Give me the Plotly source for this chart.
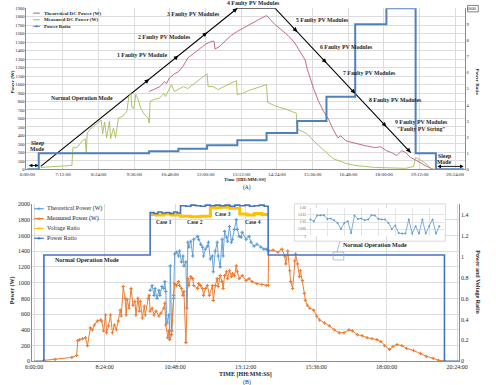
import plotly.graph_objects as go
import numpy as np

W, H = 496, 385
SERIF = "Liberation Serif, Times New Roman, serif"

# ====================== Panel (A) data ======================
A_TIME_TICKS = ["6:00:00", "7:12:00", "8:24:00", "9:36:00", "10:48:00", "12:00:00", "13:12:00",
                "14:24:00", "15:36:00", "16:48:00", "18:00:00", "19:12:00", "20:24:00"]
A_POWER_TICKS = list(range(0, 2000, 100))
A_RATIO_TICKS = [0, 1, 2, 3, 4, 5, 6, 7, 8, 9, 10]
A_RATIO_LABELS = ["0", "1", "2", "3", "4", "5", "6", "7", "8", "9", "1000"]

a_theo_time = ["10:06", "10:16", "10:28", "10:37", "10:41", "10:47", "10:57", "11:05", "11:15", "11:24",
               "11:34", "11:46", "12:00", "12:13", "12:17", "12:19", "12:29", "12:41", "12:52", "13:04",
               "13:18", "13:31", "13:47", "14:03", "14:20", "14:32", "14:46", "14:59", "15:11", "15:21",
               "15:25", "15:31", "15:38", "15:48", "15:58", "16:08", "16:17", "16:27", "16:33", "16:43",
               "16:57", "17:08", "17:22", "17:34", "17:41", "17:53", "18:05", "18:15", "18:26", "18:36",
               "18:44", "18:54", "19:06", "19:23", "19:33", "19:39"]
a_theo_power = [918, 941, 976, 1034, 1011, 1081, 1127, 1150, 1220, 1313,
                1360, 1418, 1476, 1511, 1511, 1418, 1453, 1522, 1580, 1627,
                1673, 1720, 1766, 1813, 1708, 1650, 1580, 1499, 1383, 1290,
                1185, 1069, 953, 802, 686, 593, 476, 372, 395, 337,
                314, 302, 279, 267, 256, 267, 221, 198, 163, 221,
                198, 139, 105, 46, 12, 0]

a_meas_time = ["6:27", "6:57", "7:30", "7:32", "7:40", "7:46", "7:51", "7:57", "7:59", "8:01",
               "8:09", "8:19", "8:29", "8:32", "8:36", "8:40", "8:46", "8:48", "8:54", "8:58",
               "9:04", "9:13", "9:21", "9:25", "9:29", "9:31", "9:35", "9:39", "9:43", "9:49",
               "9:56", "10:04", "10:06", "10:08", "10:16", "10:26", "10:36", "10:39", "10:51", "10:57",
               "11:05", "11:15", "11:24", "11:34", "11:46", "12:00", "12:03", "12:05", "12:15", "12:25",
               "12:37", "12:48", "13:02", "13:04", "13:14", "13:27", "13:37", "13:51", "14:03", "14:05",
               "14:22", "14:42", "15:03", "15:05", "15:25", "15:44", "16:04", "16:17", "16:43", "17:02",
               "17:41", "18:44", "19:00", "19:04", "19:15", "19:27", "19:35", "19:43"]
a_meas_power = [23, 35, 46, 256, 256, 302, 337, 360, 186, 430,
                488, 535, 581, 418, 558, 372, 569, 360, 488, 372,
                604, 628, 686, 860, 895, 732, 720, 883, 837, 720,
                651, 604, 546, 802, 825, 837, 895, 860, 999, 918,
                941, 976, 953, 999, 1057, 1116, 1127, 976, 976, 941,
                976, 999, 1046, 883, 895, 930, 953, 976, 999, 790,
                744, 709, 662, 476, 418, 302, 198, 128, 70, 46,
                23, 12, 35, 139, 105, 58, 12, 0]

a_ratio_time = ["6:00", "6:23", "10:06", "11:05", "12:03", "13:04", "14:03", "15:05", "16:04",
                "17:02", "18:05", "19:04", "19:45", "20:41"]
a_ratio_value = [0, 1, 1.125, 1.286, 1.5, 1.8, 2.25, 3, 4.5, 9, 10, 1, 0, 0]  # 10 is shown as "1000"

a_mode_time = ["6:27", "13:04", "14:20", "18:54"]
a_mode_power = [35, 1900, 1900, 198]

# ====================== Panel (B) data ======================
B_TIME_TICKS = ["6:00:00", "8:24:00", "10:48:00", "13:12:00", "15:36:00", "18:00:00", "20:24:00"]
B_POWER_TICKS = list(range(0, 2001, 200))
B_RATIO_TICKS = [0, 0.2, 0.4, 0.6, 0.8, 1.0, 1.2, 1.4]
B_RATIO_LABELS = ["0", "0.2", "0.4", "0.6", "0.8", "1", "1.2", "1.4"]

b_meas_time = ["6:20", "6:43", "7:17", "7:27", "7:29", "7:33", "7:39", "7:45", "7:49", "7:55",
               "7:59", "8:03", "8:09", "8:16", "8:18", "8:22", "8:26", "8:28", "8:32", "8:36",
               "8:40", "8:44", "8:48", "8:52", "8:56", "8:58", "9:02", "9:06", "9:08", "9:10",
               "9:14", "9:18", "9:22", "9:26", "9:28", "9:32", "9:35", "9:37", "9:41", "9:45",
               "9:47", "9:53", "9:55", "9:57", "10:01", "10:05", "10:09", "10:15", "10:19", "10:25",
               "10:27", "10:29", "10:33", "10:35", "10:37", "10:41", "10:45", "10:47", "10:51", "10:55",
               "10:57", "11:01", "11:04", "11:06", "11:10", "11:14", "11:16", "11:20", "11:24", "11:26",
               "11:34", "11:36", "11:40", "11:44", "11:46", "11:50", "11:54", "11:58", "12:04", "12:06",
               "12:10", "12:14", "12:16", "12:20", "12:24", "12:26", "12:29", "12:33", "12:35", "12:39",
               "12:43", "12:45", "12:49", "12:53", "12:55", "12:59", "13:05", "13:13", "13:19", "13:25",
               "13:35", "13:45", "13:54", "13:58", "13:59", "14:08", "14:18", "14:26", "14:32", "14:34",
               "14:38", "14:42", "14:44", "14:48", "14:52", "14:54", "14:58", "15:02", "15:04", "15:08",
               "15:12", "15:14", "15:18", "15:23", "15:31", "15:37", "15:43", "15:53", "16:03", "16:13",
               "16:23", "16:33", "16:43", "16:50", "17:00", "17:10", "17:20", "17:30", "17:40", "17:48",
               "17:56", "18:06", "18:13", "18:21", "18:31", "18:41", "18:55", "19:09", "19:21", "19:35",
               "19:46", "19:58"]
b_meas_power = [12, 25, 50, 75, 263, 275, 288, 300, 200, 425,
                400, 463, 513, 526, 513, 388, 589, 363, 451, 589,
                363, 463, 401, 513, 651, 576, 952, 802, 589, 789,
                676, 927, 714, 764, 589, 802, 639, 764, 551, 701,
                589, 802, 839, 639, 676, 589, 639, 576, 614, 676,
                739, 463, 301, 388, 276, 338, 839, 989, 964, 1014,
                964, 927, 839, 889, 238, 1052, 964, 1077, 1052, 964,
                927, 989, 964, 927, 839, 927, 964, 839, 964, 776,
                964, 1052, 952, 1090, 1014, 927, 1090, 1140, 1052, 1152,
                1077, 1115, 1090, 1215, 1140, 1052, 1090, 1027, 1052, 1014,
                989, 977, 964, 964, 1403, 1415, 1390, 1428, 1340, 1240,
                1403, 1152, 1014, 927, 1277, 1365, 1240, 1077, 1152, 1027,
                864, 776, 714, 676, 651, 576, 526, 488, 451, 401,
                363, 363, 401, 388, 338, 326, 301, 288, 276, 250,
                200, 150, 188, 213, 200, 163, 138, 100, 63, 38,
                13, 6]

b_theo_time = ["9:57", "10:01", "10:05", "10:07", "10:11", "10:15", "10:17", "10:21", "10:25", "10:27",
               "10:29", "10:31", "10:35", "10:37", "10:38", "10:41", "10:45", "10:47", "10:51", "10:55",
               "10:57", "11:01", "11:04", "11:06", "11:10", "11:12", "11:14", "11:16", "11:20", "11:24",
               "11:26", "11:34", "11:36", "11:40", "11:44", "11:46", "11:50", "11:54", "11:56", "12:00",
               "12:04", "12:06", "12:10", "12:14", "12:16", "12:20", "12:24", "12:26", "12:29", "12:33",
               "12:35", "12:39", "12:43", "12:45", "12:49", "12:53", "12:55", "12:59", "13:03", "13:05",
               "13:13", "13:19", "13:23", "13:29", "13:35", "13:43", "13:49", "13:54", "13:58"]
b_theo_power = [902, 964, 839, 927, 801, 902, 839, 952, 927, 1014,
                889, 488, 589, 338, 1215, 388, 801, 1365, 1390, 1340,
                1403, 1265, 1340, 1215, 1265, 676, 1515, 1453, 1528, 1340,
                1553, 1590, 1553, 1490, 1453, 1340, 1428, 1465, 1515, 1302,
                1340, 1140, 1403, 1515, 1340, 1202, 1553, 1340, 1653, 1578,
                1528, 1716, 1515, 1553, 1678, 1803, 1678, 1590, 1578, 1640,
                1553, 1590, 1515, 1465, 1490, 1453, 1428, 1428, 1415]

b_volt_time = ["9:57", "10:10", "10:25", "10:40", "10:59", "11:20", "11:40", "12:00", "12:20", "12:40",
               "13:00", "13:15", "13:30", "13:45", "13:58"]
b_volt_ratio = [1.40, 1.395, 1.405, 1.395, 1.385, 1.38, 1.385, 1.465, 1.47, 1.46,
                1.405, 1.395, 1.41, 1.40, 1.40]

b_pr_time = ["6:00", "6:20", "9:57", "10:05", "10:13", "10:21", "10:29", "10:37", "10:45", "10:52",
             "10:59", "11:10", "11:20", "11:30", "11:40", "11:50", "12:00", "12:10", "12:20", "12:30",
             "12:40", "12:50", "13:00", "13:10", "13:20", "13:30", "13:40", "13:50", "13:58", "19:58",
             "20:28"]
b_pr_ratio = [0, 1.015, 1.42, 1.41, 1.425, 1.415, 1.42, 1.41, 1.425, 1.415,
              1.485, 1.48, 1.49, 1.485, 1.48, 1.49, 1.485, 1.49, 1.485, 1.49,
              1.48, 1.49, 1.485, 1.49, 1.48, 1.485, 1.49, 1.48, 1.015, 0,
              0]

inset_ratio = [1.0118, 1.0106, 1.0146, 1.0148, 1.0148, 1.0122, 1.0125, 1.0113, 1.0094, 1.0052,
               1.0094, 1.0106, 1.0024, 1.0146, 1.0122, 1.0125, 1.0113, 1.0118, 1.0148, 1.0146,
               1.0122, 1.0118, 1.0118, 1.0094, 1.0052, 1.0075, 1.0024, 1.0019, 1.0019, 1.0118,
               1.0019, 1.0071, 1.0019, 1.0118, 1.0019, 1.0071, 1.0118, 1.0019, 1.0071]
INSET_TICKS = [1.0, 1.005, 1.01, 1.015, 1.02]
INSET_LABELS = ["1", "1.005", "1.01", "1.015", "1.02"]

for a, b in [(a_theo_time, a_theo_power), (a_meas_time, a_meas_power), (a_ratio_time, a_ratio_value),
             (b_meas_time, b_meas_power), (b_theo_time, b_theo_power), (b_volt_time, b_volt_ratio),
             (b_pr_time, b_pr_ratio)]:
    assert len(a) == len(b), (len(a), len(b))


def hrs(s):
    p = s.split(":")
    return int(p[0]) + int(p[1]) / 60.0 + (int(p[2]) / 3600.0 if len(p) > 2 else 0)


def hl(lst):
    return [hrs(t) for t in lst]


def PX(x):
    return x / W


def PY(y):
    return 1 - y / H


# colours
PINK = "rgb(197,88,122)"
GREEN = "rgb(166,189,88)"
BLUE_A = "#4F81BD"
LBLUE = "#5B9BD5"
ORANGE = "#ED7D31"
YELLOW = "#FFC000"
DBLUE = "#4472C4"
GRID = "#DCDCDC"
AXIS = "#8C8C8C"
TXT = "#262626"

fig = go.Figure()

# ---------- Panel A traces ----------
fig.add_trace(go.Scatter(x=hl(a_mode_time), y=a_mode_power, mode="lines", line=dict(color="black", width=1.1),
                         xaxis="x", yaxis="y", showlegend=False, cliponaxis=False))
fig.add_trace(go.Scatter(x=hl(a_theo_time), y=a_theo_power, mode="lines", line=dict(color=PINK, width=0.9),
                         xaxis="x", yaxis="y", showlegend=False))
fig.add_trace(go.Scatter(x=hl(a_meas_time), y=a_meas_power, mode="lines", line=dict(color=GREEN, width=0.9),
                         xaxis="x", yaxis="y", showlegend=False))
fig.add_trace(go.Scatter(x=hl(a_ratio_time), y=a_ratio_value, mode="lines", line=dict(color=BLUE_A, width=2, shape="hv"),
                         xaxis="x", yaxis="y2", showlegend=False, cliponaxis=False))

# ---------- Panel B traces ----------
fig.add_trace(go.Scatter(x=hl(b_theo_time), y=b_theo_power, mode="lines+markers",
                         line=dict(color=LBLUE, width=0.9), marker=dict(symbol="cross", size=2.8, color=LBLUE),
                         xaxis="x2", yaxis="y3", showlegend=False))
fig.add_trace(go.Scatter(x=hl(b_meas_time), y=b_meas_power, mode="lines+markers",
                         line=dict(color=ORANGE, width=1), marker=dict(symbol="cross", size=2.8, color=ORANGE),
                         xaxis="x2", yaxis="y3", showlegend=False))
fig.add_trace(go.Scatter(x=hl(b_volt_time), y=b_volt_ratio, mode="lines",
                         line=dict(color=YELLOW, width=3, shape="hv"),
                         xaxis="x2", yaxis="y4", showlegend=False))
fig.add_trace(go.Scatter(x=hl(b_pr_time), y=b_pr_ratio, mode="lines",
                         line=dict(color=DBLUE, width=1.6, shape="hv"),
                         xaxis="x2", yaxis="y4", showlegend=False, cliponaxis=False))

# ---------- inset ----------
fig.add_trace(go.Scatter(x=list(range(len(inset_ratio))), y=inset_ratio, mode="lines+markers",
                         line=dict(color=LBLUE, width=0.8), marker=dict(size=2, color=LBLUE),
                         xaxis="x3", yaxis="y5", showlegend=False))

shapes = []
annotations = []


def line_px(x0, y0, x1, y1, color, width, layer="above"):
    shapes.append(dict(type="line", xref="paper", yref="paper", x0=PX(x0), y0=PY(y0), x1=PX(x1), y1=PY(y1),
                       line=dict(color=color, width=width), layer=layer))


def rect_px(x0, y0, x1, y1, color, width, fill=None, layer="above"):
    d = dict(type="rect", xref="paper", yref="paper", x0=PX(x0), y0=PY(y0), x1=PX(x1), y1=PY(y1),
             line=dict(color=color, width=width), layer=layer)
    if fill:
        d["fillcolor"] = fill
    shapes.append(d)


def text_px(t, x, y, size, bold=True, angle=0, xanchor="center", bg=None):
    d = dict(text=("<b>%s</b>" % t) if bold else t, x=PX(x), y=PY(y), xref="paper", yref="paper",
             showarrow=False, xanchor=xanchor, yanchor="middle", textangle=angle,
             font=dict(family=SERIF, size=size, color=TXT))
    if bg:
        d["bgcolor"] = bg
        d["borderpad"] = 0
    annotations.append(d)


# arrowheads on the mode line at each fault transition
mx, my = hl(a_mode_time), a_mode_power
arrow_times = a_ratio_time[2:6] + a_ratio_time[7:11] + [a_mode_time[-1]]
for tt in arrow_times:
    t1 = hrs(tt)
    t0 = t1 - 0.18
    annotations.append(dict(x=t1, y=float(np.interp(t1, mx, my)), ax=t0, ay=float(np.interp(t0, mx, my)),
                            xref="x", yref="y", axref="x", ayref="y", text="", showarrow=True,
                            arrowhead=2, arrowsize=0.9, arrowwidth=1, arrowcolor="black"))
# sleep-mode double arrows
for (ta, tb, yy) in [(a_ratio_time[0], a_ratio_time[1], 45), (a_ratio_time[-2], a_ratio_time[-1], 35)]:
    annotations.append(dict(x=hrs(tb), y=yy, ax=hrs(ta), ay=yy, xref="x", yref="y", axref="x", ayref="y",
                            text="", showarrow=True, arrowhead=2, arrowside="end+start", arrowsize=0.8,
                            arrowwidth=0.9, arrowcolor="black"))

# panel A labels
for t, x, y in [("Normal Operation Mode", 77.5, 96.7), ("1 Faulty PV Module", 140, 53),
                ("2 Faulty PV Modules", 163, 35), ("3 Faulty PV Modules", 193, 10.7),
                ("4 Faulty PV Modules", 255, -0.5), ("5 Faulty PV Modules", 326, 17.7),
                ("6 Faulty PV Modules", 351, 44.3), ("7 Faulty PV Modules", 375, 71),
                ("8 Faulty PV Modules", 401, 99), ("9 Faulty PV Modules", 428, 121),
                ("\"Faulty PV String\"", 428, 127.5), ("Sleep", 32, 142), ("Mode", 32, 148),
                ("Sleep", 452, 155), ("Mode", 452, 161.5)]:
    text_px(t, x, y, 5.8)
text_px("Power (W)", 6, 80, 5, angle=-90)
text_px("Power Ratio", 486, 80, 5, angle=90)
text_px("Time [HH:MM:SS]", 246, 179, 5)
text_px("(A)", 248, 187, 5.5, bold=False)
rect_px(476, 2.5, 487, 9, "#333333", 0.6)

# top legend
for i, (name, col) in enumerate(zip(["Theoretical DC Power (W)", "Measured DC Power (W)", "Power Ratio"],
                                    [PINK, GREEN, BLUE_A])):
    yy = 10.3 + 6.7 * i
    line_px(27, yy, 34, yy, col, 1)
    text_px(name, 36, yy, 5, xanchor="left")
rect_px(29.8, 23.0, 31.2, 24.4, BLUE_A, 0.5, fill=BLUE_A)

# panel B labels
text_px("Normal Operation Mode", 83, 261, 6)
text_px("Case 1", 162, 222, 5.5)
text_px("Case 2", 194, 222, 5.5)
text_px("Case 3", 223, 214, 5.5, bg="white")
text_px("Case 4", 254, 222, 5.5)
text_px("Normal Operation Mode", 380, 246, 6)
text_px("Power (W)", 6, 292, 6, angle=-90)
text_px("Power and Voltage Ratio", 487, 283, 6, angle=90)
text_px("TIME [HH:MM:SS]", 246, 377, 6)
text_px("(B)", 248, 386, 6, bold=False)

# bottom legend
for i, (name, col) in enumerate(zip(["Theoretical Power (W)", "Measured Power (W)", "Voltage Ratio", "Power Ratio"],
                                    [LBLUE, ORANGE, YELLOW, DBLUE])):
    yy = 209 + 10 * i
    line_px(28, yy, 38, yy, col, 1.2)
    line_px(31.5, yy, 34.5, yy, col, 0.8)
    line_px(33, yy - 1.5, 33, yy + 1.5, col, 0.8)
    text_px(name, 39, yy, 6, bold=False, xanchor="left")

# inset frame, connector and zoom box
rect_px(297, 204, 453, 242, "#D0D0D0", 0.8, fill="white", layer="between")
line_px(344, 242, 341, 253, "#8FAADC", 0.8)
rect_px(337, 253, 348, 261, "#A6A6A6", 0.7)

tick_font_a = dict(family=SERIF, size=4.6, color=TXT)
tick_font_b = dict(family=SERIF, size=6, color=TXT)

fig.update_layout(
    width=W, height=H, margin=dict(l=0, r=0, t=0, b=0),
    paper_bgcolor="white", plot_bgcolor="white", showlegend=False,
    shapes=shapes, annotations=annotations,
    xaxis=dict(domain=[PX(20), PX(473)], range=[5.967, 20.72], anchor="y",
               tickvals=hl(A_TIME_TICKS), ticktext=A_TIME_TICKS, tickfont=dict(family=SERIF, size=5, color=TXT),
               showgrid=True, gridcolor=GRID, gridwidth=0.6, showline=True, linecolor=AXIS, linewidth=0.8,
               zeroline=False, ticks=""),
    yaxis=dict(domain=[PY(169), PY(5.3)], range=[0, 1900], anchor="x", tickvals=A_POWER_TICKS,
               tickfont=tick_font_a, showgrid=True, gridcolor=GRID, gridwidth=0.6, showline=True,
               linecolor=AXIS, linewidth=0.8, zeroline=False, ticks=""),
    yaxis2=dict(overlaying="y", side="right", anchor="x", range=[0, 10], tickvals=A_RATIO_TICKS,
                ticktext=A_RATIO_LABELS, tickfont=tick_font_a, showgrid=False, showline=True,
                linecolor=AXIS, linewidth=0.8, zeroline=False, ticks=""),
    xaxis2=dict(domain=[PX(26), PX(467)], range=[5.934, 20.46], anchor="y3",
                tickvals=hl(B_TIME_TICKS), ticktext=B_TIME_TICKS, tickfont=tick_font_b,
                showgrid=True, gridcolor=GRID, gridwidth=0.6, showline=True, linecolor=AXIS, linewidth=0.8,
                zeroline=False, ticks=""),
    yaxis3=dict(domain=[PY(364), PY(204.3)], range=[0, 2000], anchor="x2", tickvals=B_POWER_TICKS,
                tickfont=tick_font_b, showgrid=True, gridcolor=GRID, gridwidth=0.6, showline=True,
                linecolor=AXIS, linewidth=0.8, zeroline=False, ticks=""),
    yaxis4=dict(overlaying="y3", side="right", anchor="x2", range=[0, 1.5], tickvals=B_RATIO_TICKS,
                ticktext=B_RATIO_LABELS, tickfont=tick_font_b, showgrid=False, showline=True,
                linecolor=AXIS, linewidth=0.8, zeroline=False, ticks=""),
    xaxis3=dict(domain=[PX(310), PX(452)], range=[-1, 39.5], anchor="y5", dtick=5, showticklabels=False,
                showgrid=True, gridcolor="#E4E4E4", gridwidth=0.5, zeroline=False, showline=False, ticks=""),
    yaxis5=dict(domain=[PY(237), PY(208)], range=[1.0, 1.02], anchor="x3", tickvals=INSET_TICKS,
                ticktext=INSET_LABELS, tickfont=dict(family=SERIF, size=3.6, color="#555"),
                showgrid=True, gridcolor="#E4E4E4", gridwidth=0.5, zeroline=False, showline=False, ticks=""),
)

fig.write_html("out.html", config={"displayModeBar": False})
